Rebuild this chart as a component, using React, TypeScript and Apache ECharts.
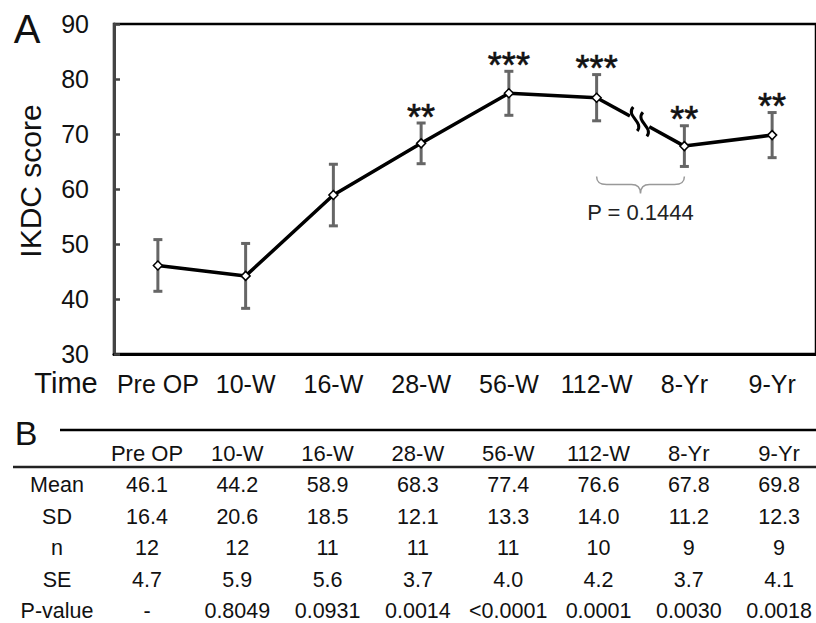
import React, { useEffect, useRef } from "react";
import * as echarts from "echarts";

const categories = ["Pre OP", "10-W", "16-W", "28-W", "56-W", "112-W", "8-Yr", "9-Yr"];
const means = [46.1, 44.2, 58.9, 68.3, 77.4, 76.6, 67.8, 69.8];
const sds = [16.4, 20.6, 18.5, 12.1, 13.3, 14.0, 11.2, 12.3];
const ns = [12, 12, 11, 11, 11, 10, 9, 9];
const ses = [4.7, 5.9, 5.6, 3.7, 4.0, 4.2, 3.7, 4.1];
const pValues = ["-", "0.8049", "0.0931", "0.0014", "<0.0001", "0.0001", "0.0030", "0.0018"];
const stars = ["", "", "", "**", "***", "***", "**", "**"];
const rowLabels = ["Mean", "SD", "n", "SE", "P-value"];
const breakAfter = 5; // axis break between 112-W and 8-Yr
const bracketP = "P = 0.1444";
const yMin = 30;
const yMax = 90;
const yInterval = 10;

const FONT = "'Liberation Sans', Arial, sans-serif";

export default function App() {
  const ref = useRef<HTMLDivElement>(null);

  useEffect(() => {
    if (!ref.current) return;
    const chart = echarts.init(ref.current, undefined, { renderer: "svg" });

    const errData = means.map((m, i) => [i, +(m - ses[i]).toFixed(2), +(m + ses[i]).toFixed(2)]);

    const tableRows: string[][] = [
      means.map((v) => v.toFixed(1)),
      sds.map((v) => v.toFixed(1)),
      ns.map((v) => String(v)),
      ses.map((v) => v.toFixed(1)),
      pValues,
    ];

    const colX0 = 147;
    const colDx = 90.3;
    const headerY = 453;
    const rowY0 = 485;
    const rowDy = 31.6;

    const txt = (text: string, x: number, y: number, size: number, fill = "#111") => ({
      type: "text",
      x,
      y,
      style: {
        text,
        fontSize: size,
        fontFamily: FONT,
        fill,
        textAlign: "center",
        textVerticalAlign: "middle",
        align: "center",
        verticalAlign: "middle",
      },
    });

    const tableGraphics: any[] = [];
    categories.forEach((c, i) => tableGraphics.push(txt(c, colX0 + i * colDx, headerY, 22)));
    rowLabels.forEach((lab, r) => {
      tableGraphics.push(txt(lab, 57, rowY0 + r * rowDy, 21.5));
      tableRows[r].forEach((v, i) => tableGraphics.push(txt(v, colX0 + i * colDx, rowY0 + r * rowDy, 21.5)));
    });

    const option: any = {
      animation: false,
      backgroundColor: "#fff",
      grid: {
        left: 114,
        top: 24,
        width: 710,
        height: 330,
        show: true,
        borderColor: "#000",
        borderWidth: 2.5,
        containLabel: false,
      },
      xAxis: {
        type: "category",
        data: categories,
        boundaryGap: true,
        axisLine: { show: true, lineStyle: { color: "#000", width: 3 } },
        axisTick: { show: false },
        axisLabel: { fontSize: 25, fontFamily: FONT, color: "#111", margin: 17, interval: 0 },
        splitLine: { show: false },
      },
      yAxis: {
        type: "value",
        min: yMin,
        max: yMax,
        interval: yInterval,
        axisLine: { show: true, lineStyle: { color: "#444", width: 3 } },
        axisTick: { show: true, inside: true, length: 6, lineStyle: { color: "#444", width: 2.5 } },
        axisLabel: { fontSize: 25, fontFamily: FONT, color: "#111", margin: 25 },
        splitLine: { show: false },
      },
      series: [
        {
          type: "custom",
          name: "SE",
          z: 1,
          data: errData,
          encode: { x: 0, y: [1, 2] },
          renderItem: (params: any, api: any) => {
            const i = api.value(0);
            const lo = api.coord([i, api.value(1)]);
            const hi = api.coord([i, api.value(2)]);
            const w = 4.5;
            const st = { stroke: "#666", lineWidth: 3 };
            const children: any[] = [
              { type: "line", shape: { x1: hi[0], y1: hi[1], x2: lo[0], y2: lo[1] }, style: st },
              { type: "line", shape: { x1: hi[0] - w, y1: hi[1], x2: hi[0] + w, y2: hi[1] }, style: st },
              { type: "line", shape: { x1: lo[0] - w, y1: lo[1], x2: lo[0] + w, y2: lo[1] }, style: st },
            ];
            const s = stars[params.dataIndex];
            if (s) {
              children.push({
                type: "text",
                style: {
                  text: s,
                  x: hi[0],
                  y: hi[1] - 6,
                  fontSize: 36,
                  fontFamily: FONT,
                  fill: "#111",
                  stroke: "#111",
                  lineWidth: 0.6,
                  textAlign: "center",
                  textVerticalAlign: "middle",
                  align: "center",
                  verticalAlign: "middle",
                },
              });
            }
            return { type: "group", children };
          },
        },
        {
          type: "line",
          name: "Mean A",
          z: 3,
          data: means.map((m, i) => (i <= breakAfter ? m : "-")),
          symbol: "diamond",
          symbolSize: 9,
          lineStyle: { color: "#000", width: 3.5 },
          itemStyle: { color: "#fff", borderColor: "#000", borderWidth: 1.5 },
        },
        {
          type: "line",
          name: "Mean B",
          z: 3,
          data: means.map((m, i) => (i > breakAfter ? m : "-")),
          symbol: "diamond",
          symbolSize: 9,
          lineStyle: { color: "#000", width: 3.5 },
          itemStyle: { color: "#fff", borderColor: "#000", borderWidth: 1.5 },
        },
        {
          type: "custom",
          name: "break",
          z: 2,
          data: [[breakAfter, means[breakAfter]]],
          encode: { x: 0, y: 1 },
          renderItem: (params: any, api: any) => {
            const a = breakAfter;
            const b = breakAfter + 1;
            const p5 = api.coord([a, means[a]]);
            const p6 = api.coord([b, means[b]]);
            const lerp = (t: number) => [p5[0] + (p6[0] - p5[0]) * t, p5[1] + (p6[1] - p5[1]) * t];
            const g1 = lerp(0.38);
            const g2 = lerp(0.6);
            const s1 = lerp(0.44);
            const s2 = lerp(0.55);
            const sq = (c: number[]) =>
              `M ${c[0] - 2} ${c[1] - 12} C ${c[0] - 10} ${c[1] - 3}, ${c[0] + 9} ${c[1] + 3}, ${c[0] + 2} ${c[1] + 12}`;
            const lineSt = { stroke: "#000", lineWidth: 3.5 };
            const low6 = api.coord([b, means[b] - ses[b]]);
            const y0 = low6[1] + 10;
            const xl = p5[0];
            const xr = p6[0];
            const xm = (xl + xr) / 2;
            const braceD =
              `M ${xl} ${y0} C ${xl} ${y0 + 6}, ${xl + 3} ${y0 + 8}, ${xl + 10} ${y0 + 8} ` +
              `L ${xm - 9} ${y0 + 8} C ${xm - 3} ${y0 + 8}, ${xm} ${y0 + 11}, ${xm} ${y0 + 17} ` +
              `C ${xm} ${y0 + 11}, ${xm + 3} ${y0 + 8}, ${xm + 9} ${y0 + 8} ` +
              `L ${xr - 10} ${y0 + 8} C ${xr - 3} ${y0 + 8}, ${xr} ${y0 + 6}, ${xr} ${y0}`;
            return {
              type: "group",
              children: [
                { type: "line", shape: { x1: p5[0], y1: p5[1], x2: g1[0], y2: g1[1] }, style: lineSt },
                { type: "line", shape: { x1: g2[0], y1: g2[1], x2: p6[0], y2: p6[1] }, style: lineSt },
                { type: "path", shape: { pathData: sq(s1) }, style: { stroke: "#000", lineWidth: 3, fill: "none" } },
                { type: "path", shape: { pathData: sq(s2) }, style: { stroke: "#000", lineWidth: 3, fill: "none" } },
                { type: "path", shape: { pathData: braceD }, style: { stroke: "#999", lineWidth: 1.5, fill: "none" } },
                {
                  type: "text",
                  style: {
                    text: bracketP,
                    x: xm,
                    y: y0 + 36,
                    fontSize: 22,
                    fontFamily: FONT,
                    fill: "#222",
                    textAlign: "center",
                    textVerticalAlign: "middle",
                    align: "center",
                    verticalAlign: "middle",
                  },
                },
              ],
            };
          },
        },
      ],
      graphic: [
        txt("A", 27, 29, 40),
        {
          type: "text",
          x: 30,
          y: 181,
          rotation: Math.PI / 2,
          style: { text: "IKDC score", fontSize: 30, fontFamily: FONT, fill: "#111", textAlign: "center", textVerticalAlign: "middle", align: "center", verticalAlign: "middle" },
        },
        txt("Time", 66, 383, 29),
        txt("B", 26, 433, 34),
        { type: "line", shape: { x1: 60, y1: 430, x2: 816, y2: 430 }, style: { stroke: "#000", lineWidth: 2.5 } },
        { type: "line", shape: { x1: 13, y1: 467, x2: 816, y2: 467 }, style: { stroke: "#222", lineWidth: 2.5 } },
        ...tableGraphics,
      ],
    };

    chart.setOption(option);
    return () => chart.dispose();
  }, []);

  return (
    <div
      ref={ref}
      style={{ position: "fixed", left: 0, top: 0, width: 816, height: 623, background: "#fff" }}
    />
  );
}
